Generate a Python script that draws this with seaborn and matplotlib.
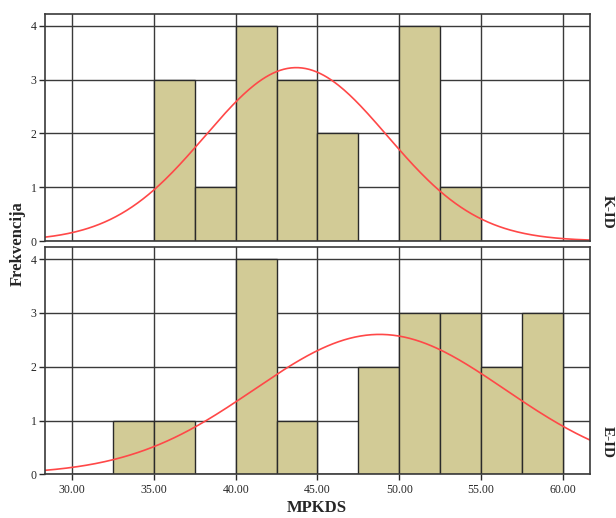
import numpy as np
import pandas as pd
import matplotlib
matplotlib.use("Agg")
import matplotlib.pyplot as plt
import seaborn as sns

# ---- data ----
bin_edges = [30.0, 32.5, 35.0, 37.5, 40.0, 42.5, 45.0, 47.5, 50.0, 52.5, 55.0, 57.5, 60.0]
top_counts = [0, 0, 3, 1, 4, 3, 2, 0, 4, 1, 0, 0]
bottom_counts = [0, 1, 1, 0, 4, 1, 0, 2, 3, 3, 2, 3]
top_mean, top_sd = 43.7, 5.57
bottom_mean, bottom_sd = 48.8, 7.67
x_ticks = [30, 35, 40, 45, 50, 55, 60]
x_tick_labels = ["30.00", "35.00", "40.00", "45.00", "50.00", "55.00", "60.00"]
y_ticks = [0, 1, 2, 3, 4]
panel_labels = ["K-ID", "E-ID"]

sns.set_theme(style="white")
plt.rcParams['font.family'] = ['Liberation Serif', 'DejaVu Serif']

W, H = 616, 518
fig = plt.figure(figsize=(W / 100, H / 100), dpi=100)

bar_color = "#d2cb96"
edge_color = "#2a2a2a"
grid_color = "#3a3a3a"
curve_color = "#ff4848"

def make_axes(top_px, bot_px):
    left, right = 45, 590
    return fig.add_axes([left / W, 1 - bot_px / H, (right - left) / W, (bot_px - top_px) / H])

ax_top = make_axes(14, 241)
ax_bot = make_axes(247.3, 474.3)

centers = [(a + b) / 2 for a, b in zip(bin_edges[:-1], bin_edges[1:])]
width = bin_edges[1] - bin_edges[0]

for ax, counts, mu, sd, show_x in [
    (ax_top, top_counts, top_mean, top_sd, False),
    (ax_bot, bottom_counts, bottom_mean, bottom_sd, True),
]:
    ax.set_axisbelow(True)
    ax.grid(True, color=grid_color, linewidth=1.0)
    df = pd.DataFrame({"x": centers, "w": counts})
    sns.histplot(data=df, x="x", weights="w", bins=bin_edges, ax=ax,
                 color=bar_color, edgecolor=edge_color, linewidth=1.0, alpha=1.0)
    n = sum(counts)
    xs = np.linspace(28.3, 61.7, 300)
    ys = n * width / (sd * np.sqrt(2 * np.pi)) * np.exp(-0.5 * ((xs - mu) / sd) ** 2)
    sns.lineplot(x=xs, y=ys, ax=ax, color=curve_color, linewidth=1.2)
    ax.set_xlim(28.33, 61.67)
    ax.set_ylim(0, 4.22)
    ax.set_yticks(y_ticks)
    ax.set_yticklabels([str(v) for v in y_ticks], fontsize=8.5)
    ax.set_xticks(x_ticks)
    if show_x:
        ax.set_xticklabels(x_tick_labels, fontsize=8.5)
    else:
        ax.set_xticklabels([])
        ax.tick_params(axis='x', length=0)
    ax.tick_params(axis='y', length=4, width=1, color=edge_color, pad=2, left=True)
    if show_x:
        ax.tick_params(axis='x', length=4, width=1, color=edge_color, pad=3, bottom=True)
    ax.set_xlabel("")
    ax.set_ylabel("")
    for s in ax.spines.values():
        s.set_color(grid_color)
        s.set_linewidth(1.2)

fig.text(18 / W, 1 - 244 / H, "Frekvencija", rotation=90, ha='center', va='center',
         fontsize=12, fontweight='bold')
fig.text(317 / W, 1 - 508 / H, "MPKDS", ha='center', va='center',
         fontsize=12, fontweight='bold')
fig.text(614 / W, 1 - 212 / H, panel_labels[0], rotation=-90, ha='right', va='center',
         fontsize=11, fontweight='bold')
fig.text(614 / W, 1 - 442 / H, panel_labels[1], rotation=-90, ha='right', va='center',
         fontsize=11, fontweight='bold')

fig.savefig("out.png", dpi=100)
